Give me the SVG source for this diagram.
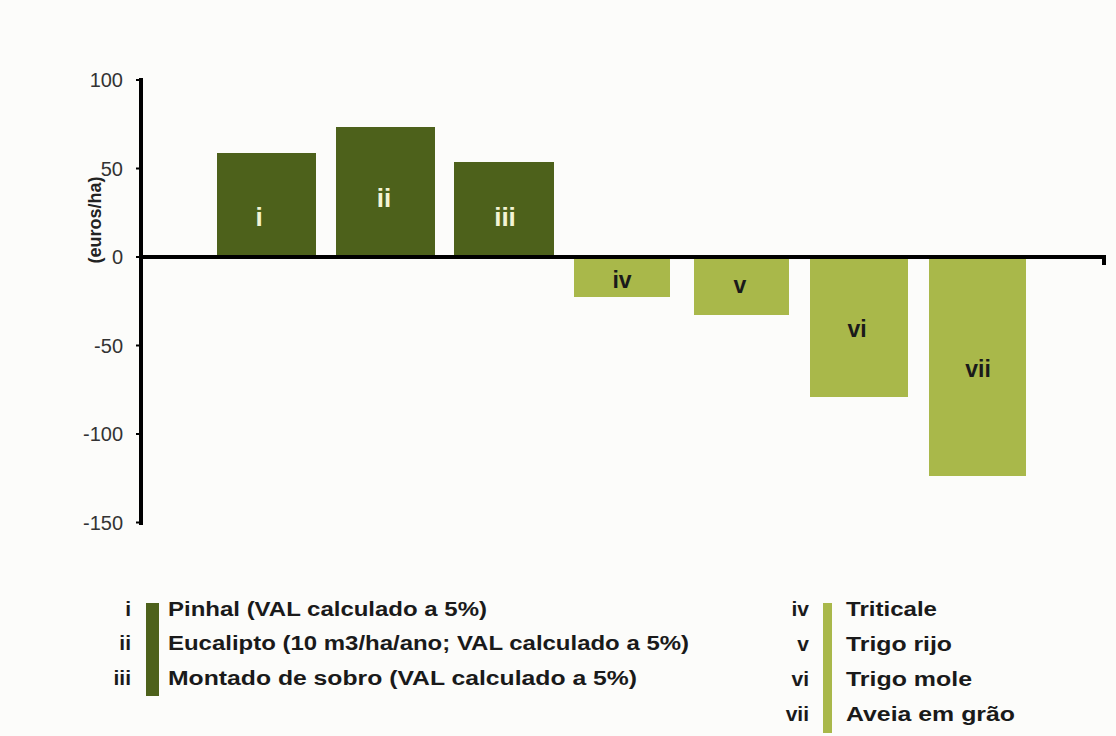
<svg xmlns="http://www.w3.org/2000/svg" width="1116" height="736" viewBox="0 0 1116 736">
  <style>
    .tick { font-family: "Liberation Sans", Arial, sans-serif; font-size: 20px; fill: #333333; text-anchor: end; }
    .ylab { font-family: "Liberation Sans", Arial, sans-serif; font-size: 18px; font-weight: bold; fill: #222222; text-anchor: middle; }
    .dark { fill: #4d611b; }
    .light { fill: #a9b84a; }
    .blab { font-family: "Liberation Sans", Arial, sans-serif; font-size: 26px; font-weight: bold; fill: #f4f4d4; text-anchor: middle; }
    .blab2 { font-family: "Liberation Sans", Arial, sans-serif; font-size: 23px; font-weight: bold; fill: #1a1a1a; text-anchor: middle; }
    .lnum { font-family: "Liberation Sans", Arial, sans-serif; font-size: 21px; font-weight: bold; fill: #1a1a1a; text-anchor: end; }
    .ltxt { font-family: "Liberation Sans", Arial, sans-serif; font-size: 20px; font-weight: bold; fill: #1a1a1a; }
    .axis { stroke: #000000; stroke-width: 4; fill: none; }
  </style>
  <rect width="1116" height="736" fill="#fcfcfa"/>

  <g id="y-axis-labels">
    <text class="tick" x="123" y="87">100</text>
    <text class="tick" x="123" y="175.5">50</text>
    <text class="tick" x="123" y="264">0</text>
    <text class="tick" x="123" y="352.5">-50</text>
    <text class="tick" x="123" y="441">-100</text>
    <text class="tick" x="123" y="529.5">-150</text>
    <text class="ylab" transform="translate(101,220) rotate(-90)">(euros/ha)</text>
  </g>

  <g id="bar-i">
    <rect class="dark" x="217" y="153" width="99" height="104"/>
    <text class="blab" x="259" y="226">i</text>
  </g>
  <g id="bar-ii">
    <rect class="dark" x="336" y="127" width="99" height="130"/>
    <text class="blab" x="384" y="207">ii</text>
  </g>
  <g id="bar-iii">
    <rect class="dark" x="454" y="162" width="100" height="95"/>
    <text class="blab" x="505" y="226">iii</text>
  </g>
  <g id="bar-iv">
    <rect class="light" x="574" y="257" width="96" height="40"/>
    <text class="blab2" x="622" y="288">iv</text>
  </g>
  <g id="bar-v">
    <rect class="light" x="694" y="257" width="95" height="58"/>
    <text class="blab2" x="740" y="293">v</text>
  </g>
  <g id="bar-vi">
    <rect class="light" x="810" y="257" width="98" height="140"/>
    <text class="blab2" x="857" y="337">vi</text>
  </g>
  <g id="bar-vii">
    <rect class="light" x="929" y="257" width="97" height="219"/>
    <text class="blab2" x="978" y="377">vii</text>
  </g>

  <g id="axes">
    <line class="axis" x1="141" y1="78" x2="141" y2="525"/>
    <line class="axis" x1="139" y1="257" x2="1106" y2="257"/>
    <line class="axis" x1="1104" y1="257" x2="1104" y2="265"/>
    <g stroke="#000" stroke-width="2">
      <line x1="136" y1="80" x2="141" y2="80"/>
      <line x1="136" y1="168.5" x2="141" y2="168.5"/>
      <line x1="136" y1="257" x2="141" y2="257"/>
      <line x1="136" y1="345.5" x2="141" y2="345.5"/>
      <line x1="136" y1="434" x2="141" y2="434"/>
      <line x1="136" y1="522.5" x2="141" y2="522.5"/>
    </g>
  </g>

  <g id="legend-left">
    <rect class="dark" x="146" y="603" width="13" height="93"/>
    <text class="lnum" x="131" y="616">i</text>
    <text class="lnum" x="131" y="650">ii</text>
    <text class="lnum" x="131" y="685">iii</text>
    <text class="ltxt" x="168" y="616" textLength="319" lengthAdjust="spacingAndGlyphs">Pinhal (VAL calculado a 5%)</text>
    <text class="ltxt" x="168" y="650" textLength="521" lengthAdjust="spacingAndGlyphs">Eucalipto (10 m3/ha/ano; VAL calculado a 5%)</text>
    <text class="ltxt" x="168" y="685" textLength="469" lengthAdjust="spacingAndGlyphs">Montado de sobro (VAL calculado a 5%)</text>
  </g>

  <g id="legend-right">
    <rect class="light" x="823" y="603" width="9" height="130"/>
    <text class="lnum" x="809" y="616">iv</text>
    <text class="lnum" x="809" y="651">v</text>
    <text class="lnum" x="809" y="686">vi</text>
    <text class="lnum" x="809" y="721">vii</text>
    <text class="ltxt" x="846" y="616" textLength="91" lengthAdjust="spacingAndGlyphs">Triticale</text>
    <text class="ltxt" x="846" y="651" textLength="106" lengthAdjust="spacingAndGlyphs">Trigo rijo</text>
    <text class="ltxt" x="846" y="686" textLength="126" lengthAdjust="spacingAndGlyphs">Trigo mole</text>
    <text class="ltxt" x="846" y="721" textLength="169" lengthAdjust="spacingAndGlyphs">Aveia em grão</text>
  </g>
</svg>
